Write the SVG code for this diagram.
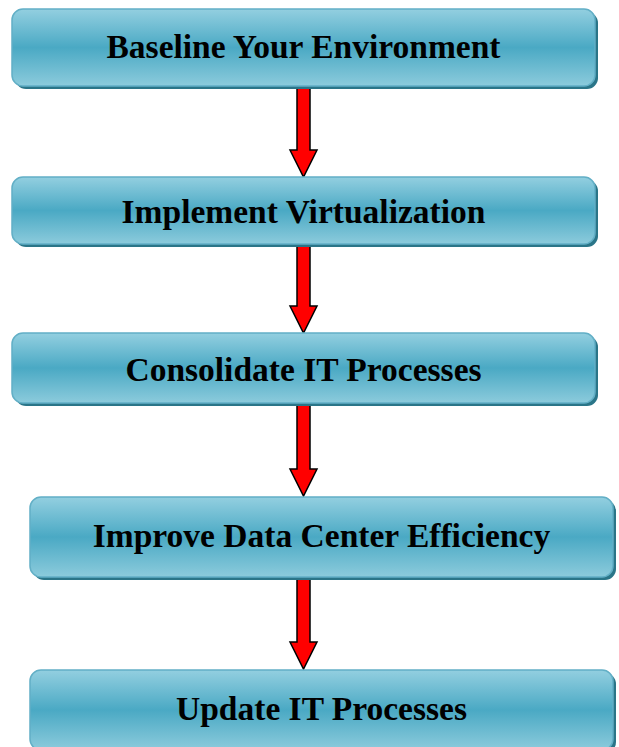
<svg xmlns="http://www.w3.org/2000/svg" width="619" height="747" viewBox="0 0 619 747">
  <defs>
    <linearGradient id="boxFill" x1="0" y1="0" x2="0" y2="1">
      <stop offset="0" stop-color="#93cfe0"/>
      <stop offset="0.5" stop-color="#4aa9c4"/>
      <stop offset="1" stop-color="#8ccbdc"/>
    </linearGradient>
    <style>
      .shadow { fill: #2a7588; }
      .box { fill: url(#boxFill); stroke: #62afc6; stroke-width: 1.5; }
      .label { font-family: "Liberation Serif", "Times New Roman", serif; font-weight: bold; font-size: 33.5px; fill: #000; text-anchor: middle; }
      .arrow { fill: #ff0000; stroke: #000; stroke-width: 1.5; stroke-linejoin: miter; }
    </style>
  </defs>
  <rect width="619" height="747" fill="#fff"/>

  <g id="connectors">
    <path class="arrow" d="M297,86 H310 V150 H317 L303.5,177 L290,150 H297 Z"/>
    <path class="arrow" d="M297,244 H310 V306 H317 L303.5,333 L290,306 H297 Z"/>
    <path class="arrow" d="M297,404 H310 V469 H317 L303.5,496 L290,469 H297 Z"/>
    <path class="arrow" d="M297,578 H310 V642 H317 L303.5,669 L290,642 H297 Z"/>
  </g>

  <g id="baseline">
    <rect class="shadow" x="15" y="12" width="583" height="77" rx="11"/>
    <rect class="box" x="12" y="9" width="583" height="77" rx="11"/>
    <text class="label" x="303.5" y="58">Baseline Your Environment</text>
  </g>

  <g id="virtualize">
    <rect class="shadow" x="15" y="180" width="583" height="67" rx="11"/>
    <rect class="box" x="12" y="177" width="583" height="67" rx="11"/>
    <text class="label" x="303.5" y="223">Implement Virtualization</text>
  </g>

  <g id="consolidate">
    <rect class="shadow" x="15" y="336" width="583" height="70" rx="11"/>
    <rect class="box" x="12" y="333" width="583" height="70" rx="11"/>
    <text class="label" x="303.5" y="381">Consolidate IT Processes</text>
  </g>

  <g id="efficiency">
    <rect class="shadow" x="33" y="500" width="583" height="80" rx="11"/>
    <rect class="box" x="30" y="497" width="583" height="80" rx="11"/>
    <text class="label" x="321.5" y="547">Improve Data Center Efficiency</text>
  </g>

  <g id="update">
    <rect class="shadow" x="33" y="673" width="583" height="80" rx="11"/>
    <rect class="box" x="30" y="670" width="583" height="80" rx="11"/>
    <text class="label" x="321.5" y="720">Update IT Processes</text>
  </g>
</svg>
